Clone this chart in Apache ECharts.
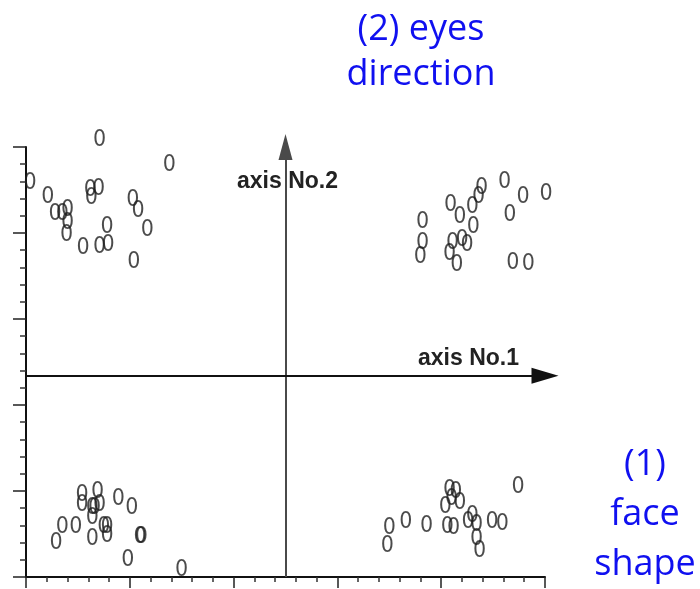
<!DOCTYPE html>
<html>
<head>
<meta charset="utf-8">
<script src="https://cdn.jsdelivr.net/npm/echarts@6/dist/echarts.min.js"></script>
<style>
  html, body { margin: 0; padding: 0; background: #fff; }
  #chart { width: 700px; height: 589px; }
</style>
</head>
<body>
<div id="chart"></div>
<script>
// points, axis units (0..5 on each axis)
var topLeft = [
  [0.71, 5.08], [1.38, 4.79], [0.04, 4.58], [0.21, 4.42], [0.62, 4.50],
  [0.70, 4.51], [0.63, 4.41], [1.03, 4.38], [1.08, 4.26], [0.28, 4.22],
  [0.35, 4.22], [0.40, 4.27], [0.40, 4.12], [0.39, 3.98], [0.78, 4.07],
  [1.17, 4.03], [0.55, 3.83], [0.71, 3.84], [0.79, 3.86], [1.04, 3.66]
];
var topRight = [
  [4.39, 4.52], [4.61, 4.59], [4.36, 4.42], [4.79, 4.42], [5.01, 4.45],
  [4.09, 4.33], [4.18, 4.19], [4.30, 4.30], [4.66, 4.21], [3.82, 4.13],
  [4.31, 4.07], [3.82, 3.88], [3.80, 3.72], [4.11, 3.88], [4.20, 3.92],
  [4.25, 3.86], [4.08, 3.76], [4.15, 3.63], [4.69, 3.65], [4.84, 3.64]
];
var bottomLeft = [
  [0.54, 0.95], [0.69, 0.99], [0.54, 0.84], [0.64, 0.80], [0.71, 0.84],
  [0.66, 0.80], [0.64, 0.69], [0.89, 0.91], [1.02, 0.80], [0.35, 0.58],
  [0.48, 0.58], [0.75, 0.58], [0.78, 0.58], [0.78, 0.48], [0.64, 0.44],
  [0.29, 0.40], [1.10, 0.47], [1.11, 0.47], [0.98, 0.20], [1.50, 0.08]
];
var bottomRight = [
  [4.74, 1.05], [4.08, 1.01], [4.14, 0.99], [4.10, 0.91], [4.18, 0.86],
  [4.04, 0.81], [4.30, 0.71], [4.26, 0.64], [4.34, 0.60], [4.49, 0.64],
  [4.59, 0.62], [4.06, 0.58], [4.12, 0.57], [3.86, 0.59], [3.66, 0.64],
  [3.50, 0.57], [3.48, 0.36], [4.34, 0.44], [4.37, 0.30]
];

// the two crossing axes
var axis1Y = 2.34;
var axis2X = 2.5;

var markerLabel = {
  show: true,
  position: 'inside',
  formatter: '0',
  fontFamily: 'Liberation Sans Narrow, DejaVu Sans Condensed, sans-serif',
  fontSize: 23,
  color: '#1e1e1e'
};

function clusterSeries(data) {
  return {
    type: 'scatter',
    data: data,
    clip: false,
    symbolSize: 1,
    itemStyle: { color: 'rgba(0,0,0,0)' },
    label: markerLabel,
    silent: true
  };
}

var series = [
  clusterSeries(topLeft),
  clusterSeries(topRight),
  clusterSeries(bottomLeft),
  clusterSeries(bottomRight)
];

series[0].markLine = {
  silent: true,
  symbol: ['none', 'triangle'],
  label: { show: false },
  data: [
    [
      { coord: [axis2X, 0], symbolSize: [14, 26], lineStyle: { color: '#4a4a4a', width: 2, type: 'solid' } },
      { coord: [axis2X, 5], symbolSize: [14, 26] }
    ],
    [
      { coord: [0, axis1Y], symbolSize: [16, 27], lineStyle: { color: '#111', width: 2, type: 'solid' } },
      { coord: [5, axis1Y], symbolSize: [16, 27] }
    ]
  ]
};
series[0].markLine.clip = false;

var option = {
  backgroundColor: '#fff',
  animation: false,
  grid: { left: 26, right: 155, top: 147, bottom: 12 },
  xAxis: {
    type: 'value',
    min: 0,
    max: 5,
    interval: 1,
    axisLine: { lineStyle: { color: '#111', width: 2 } },
    axisTick: { length: 11, lineStyle: { color: '#222', width: 1.5 } },
    minorTick: { show: true, splitNumber: 5, length: 5, lineStyle: { color: '#333', width: 1.5 } },
    axisLabel: { show: false },
    splitLine: { show: false }
  },
  yAxis: {
    type: 'value',
    min: 0,
    max: 5,
    interval: 1,
    axisLine: { lineStyle: { color: '#111', width: 2 } },
    axisTick: { length: 13, lineStyle: { color: '#222', width: 1.5 } },
    minorTick: { show: true, splitNumber: 5, length: 6, lineStyle: { color: '#333', width: 1.5 } },
    axisLabel: { show: false },
    splitLine: { show: false }
  },
  graphic: [
    {
      type: 'text', left: 418, top: 347,
      style: { text: 'axis No.1', fill: '#222', font: 'bold 23px "Liberation Sans", Arial, sans-serif' }
    },
    {
      type: 'text', left: 237, top: 170,
      style: { text: 'axis No.2', fill: '#222', font: 'bold 23px "Liberation Sans", Arial, sans-serif' }
    },
    {
      type: 'text', x: 421, y: 7,
      style: {
        text: '(2) eyes\ndirection', fill: '#1010f0', align: 'center',
        font: '36px "Open Sans", "Noto Sans", sans-serif', lineHeight: 45
      }
    },
    {
      type: 'text', x: 645, y: 440,
      style: {
        text: '(1)\nface\nshape', fill: '#1010f0', align: 'center',
        font: '36px "Open Sans", "Noto Sans", sans-serif', lineHeight: 50
      }
    }
  ],
  series: series
};

var chart = echarts.init(document.getElementById('chart'));
chart.setOption(option);
</script>
</body>
</html>
